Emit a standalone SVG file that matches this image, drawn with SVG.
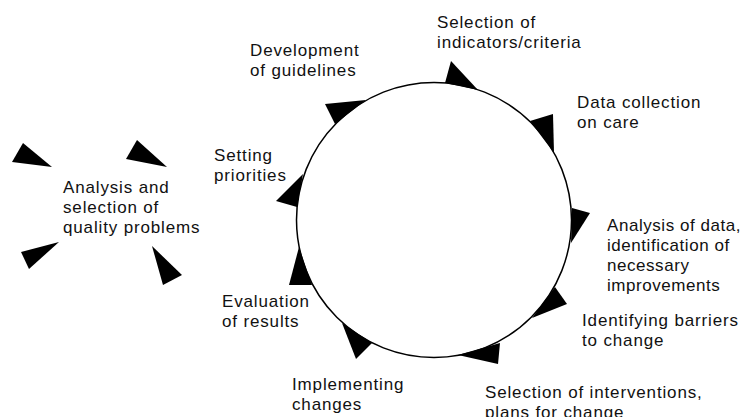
<svg xmlns="http://www.w3.org/2000/svg" width="742" height="417" viewBox="0 0 742 417">
<style>
text{font-family:"Liberation Sans",Arial,sans-serif;font-size:17px;letter-spacing:0.85px;fill:#111}
.tight text{letter-spacing:0.55px}
.tri{fill:#000;stroke:none}
.ring{fill:#fff;stroke:#000;stroke-width:1.5}
</style>
<rect width="742" height="417" fill="#fff"/>
<g id="cycle">
<circle class="ring" cx="434" cy="220" r="137.5"/>
</g>
<g id="connectors">
<polygon class="tri" points="445,83 451,61 478,90"/>
<polygon class="tri" points="530,121 553,114 554,153"/>
<polygon class="tri" points="572,208 590,213 571,243"/>
<polygon class="tri" points="555,287 567,304 532,318"/>
<polygon class="tri" points="500,343 498,364 458,355"/>
<polygon class="tri" points="372,343 356,359 342,323"/>
<polygon class="tri" points="299,247 312,285 289,285"/>
<polygon class="tri" points="303,174 297,207 276,201"/>
<polygon class="tri" points="335,124 325,104 366,100"/>
</g>
<g id="analysis-selection">
<polygon class="tri" points="12,162 23,143 52,167"/>
<polygon class="tri" points="126,159 137,140 167,167"/>
<polygon class="tri" points="21,252 59,242 29,269"/>
<polygon class="tri" points="152,246 182,275 163,285"/>
<text x="63" y="193">Analysis and</text>
<text x="63" y="213">selection of</text>
<text x="63" y="233">quality problems</text>
</g>
<g id="selection-indicators">
<text x="437" y="28">Selection of</text>
<text x="437" y="48">indicators/criteria</text>
</g>
<g id="data-collection">
<text x="577" y="108">Data collection</text>
<text x="577" y="128">on care</text>
</g>
<g id="analysis-data" class="tight">
<text x="607" y="231">Analysis of data,</text>
<text x="607" y="251">identification of</text>
<text x="607" y="271">necessary</text>
<text x="607" y="291">improvements</text>
</g>
<g id="identifying-barriers">
<text x="582" y="326">Identifying barriers</text>
<text x="582" y="346">to change</text>
</g>
<g id="selection-interventions">
<text x="485" y="398">Selection of interventions,</text>
<text x="485" y="418">plans for change</text>
</g>
<g id="implementing">
<text x="292" y="390">Implementing</text>
<text x="292" y="410">changes</text>
</g>
<g id="evaluation">
<text x="222" y="307">Evaluation</text>
<text x="222" y="327">of results</text>
</g>
<g id="setting-priorities">
<text x="214" y="161">Setting</text>
<text x="214" y="181">priorities</text>
</g>
<g id="development">
<text x="250" y="56">Development</text>
<text x="250" y="76">of guidelines</text>
</g>
</svg>
